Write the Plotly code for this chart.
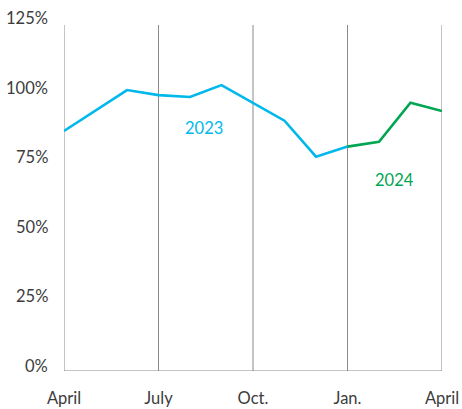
import plotly.graph_objects as go

# Data
months = list(range(13))  # April 2023 .. April 2024
month_tick_vals = [0, 3, 6, 9, 12]
month_tick_text = ["April", "July", "Oct.", "Jan.", "April"]
values_2023 = [86.2, 93.5, 100.9, 99.1, 98.4, 102.7, 96.4, 89.9, 77.0, 80.6]
values_2024 = [80.6, 82.3, 96.4, 93.4]
x_2023 = months[0:10]
x_2024 = months[9:13]
y_tick_vals = [0, 25, 50, 75, 100, 125]
y_tick_text = ["0%", "25%", "50%", "75%", "100%", "125%"]

BLUE = "#00B8EC"
GREEN = "#00A651"
TEXT = "#3c3c3c"
GRID = "#8a8a8a"
FONT = "Lato, sans-serif"
FS = 16.5

fig = go.Figure()
fig.add_trace(go.Scatter(x=x_2023, y=values_2023, mode="lines",
                         line=dict(color=BLUE, width=2.6), cliponaxis=False,
                         hoverinfo="skip"))
fig.add_trace(go.Scatter(x=x_2024, y=values_2024, mode="lines",
                         line=dict(color=GREEN, width=2.6), cliponaxis=False,
                         hoverinfo="skip"))

# vertical lines at tick positions
for xv in month_tick_vals:
    fig.add_shape(type="line", xref="x", yref="y", x0=xv, x1=xv, y0=0, y1=124.3,
                  line=dict(color=GRID, width=1), layer="below")
# baseline
fig.add_shape(type="line", xref="x", yref="y", x0=0, x1=12, y0=0, y1=0,
              line=dict(color=GRID, width=1.2), layer="below")

# y labels
for v, t in zip(y_tick_vals, y_tick_text):
    fig.add_annotation(x=0, xref="paper", y=v, yref="y", text=t, showarrow=False,
                       xanchor="right", yanchor="middle", xshift=-14, yshift=5,
                       font=dict(family=FONT, size=FS, color=TEXT))

# series labels
fig.add_annotation(x=4.45, y=87.3, xref="x", yref="y", text="2023", showarrow=False,
                   font=dict(family=FONT, size=FS, color=BLUE))
fig.add_annotation(x=10.5, y=68.6, xref="x", yref="y", text="2024", showarrow=False,
                   font=dict(family=FONT, size=FS, color=GREEN))

fig.update_layout(
    width=462, height=409,
    margin=dict(l=64, r=20, t=23, b=38, autoexpand=False),
    plot_bgcolor="white", paper_bgcolor="white",
    showlegend=False,
    font=dict(family=FONT, size=FS, color=TEXT),
    xaxis=dict(range=[0, 12], tickvals=month_tick_vals, ticktext=month_tick_text,
               showgrid=False, zeroline=False, showline=False, ticks="",
               automargin=False,
               ticklabelstandoff=15, tickfont=dict(family=FONT, size=FS, color=TEXT)),
    yaxis=dict(range=[0, 125], showgrid=False, zeroline=False, showline=False,
               showticklabels=False, ticks="", automargin=False),
)

fig.write_html("out.html")
